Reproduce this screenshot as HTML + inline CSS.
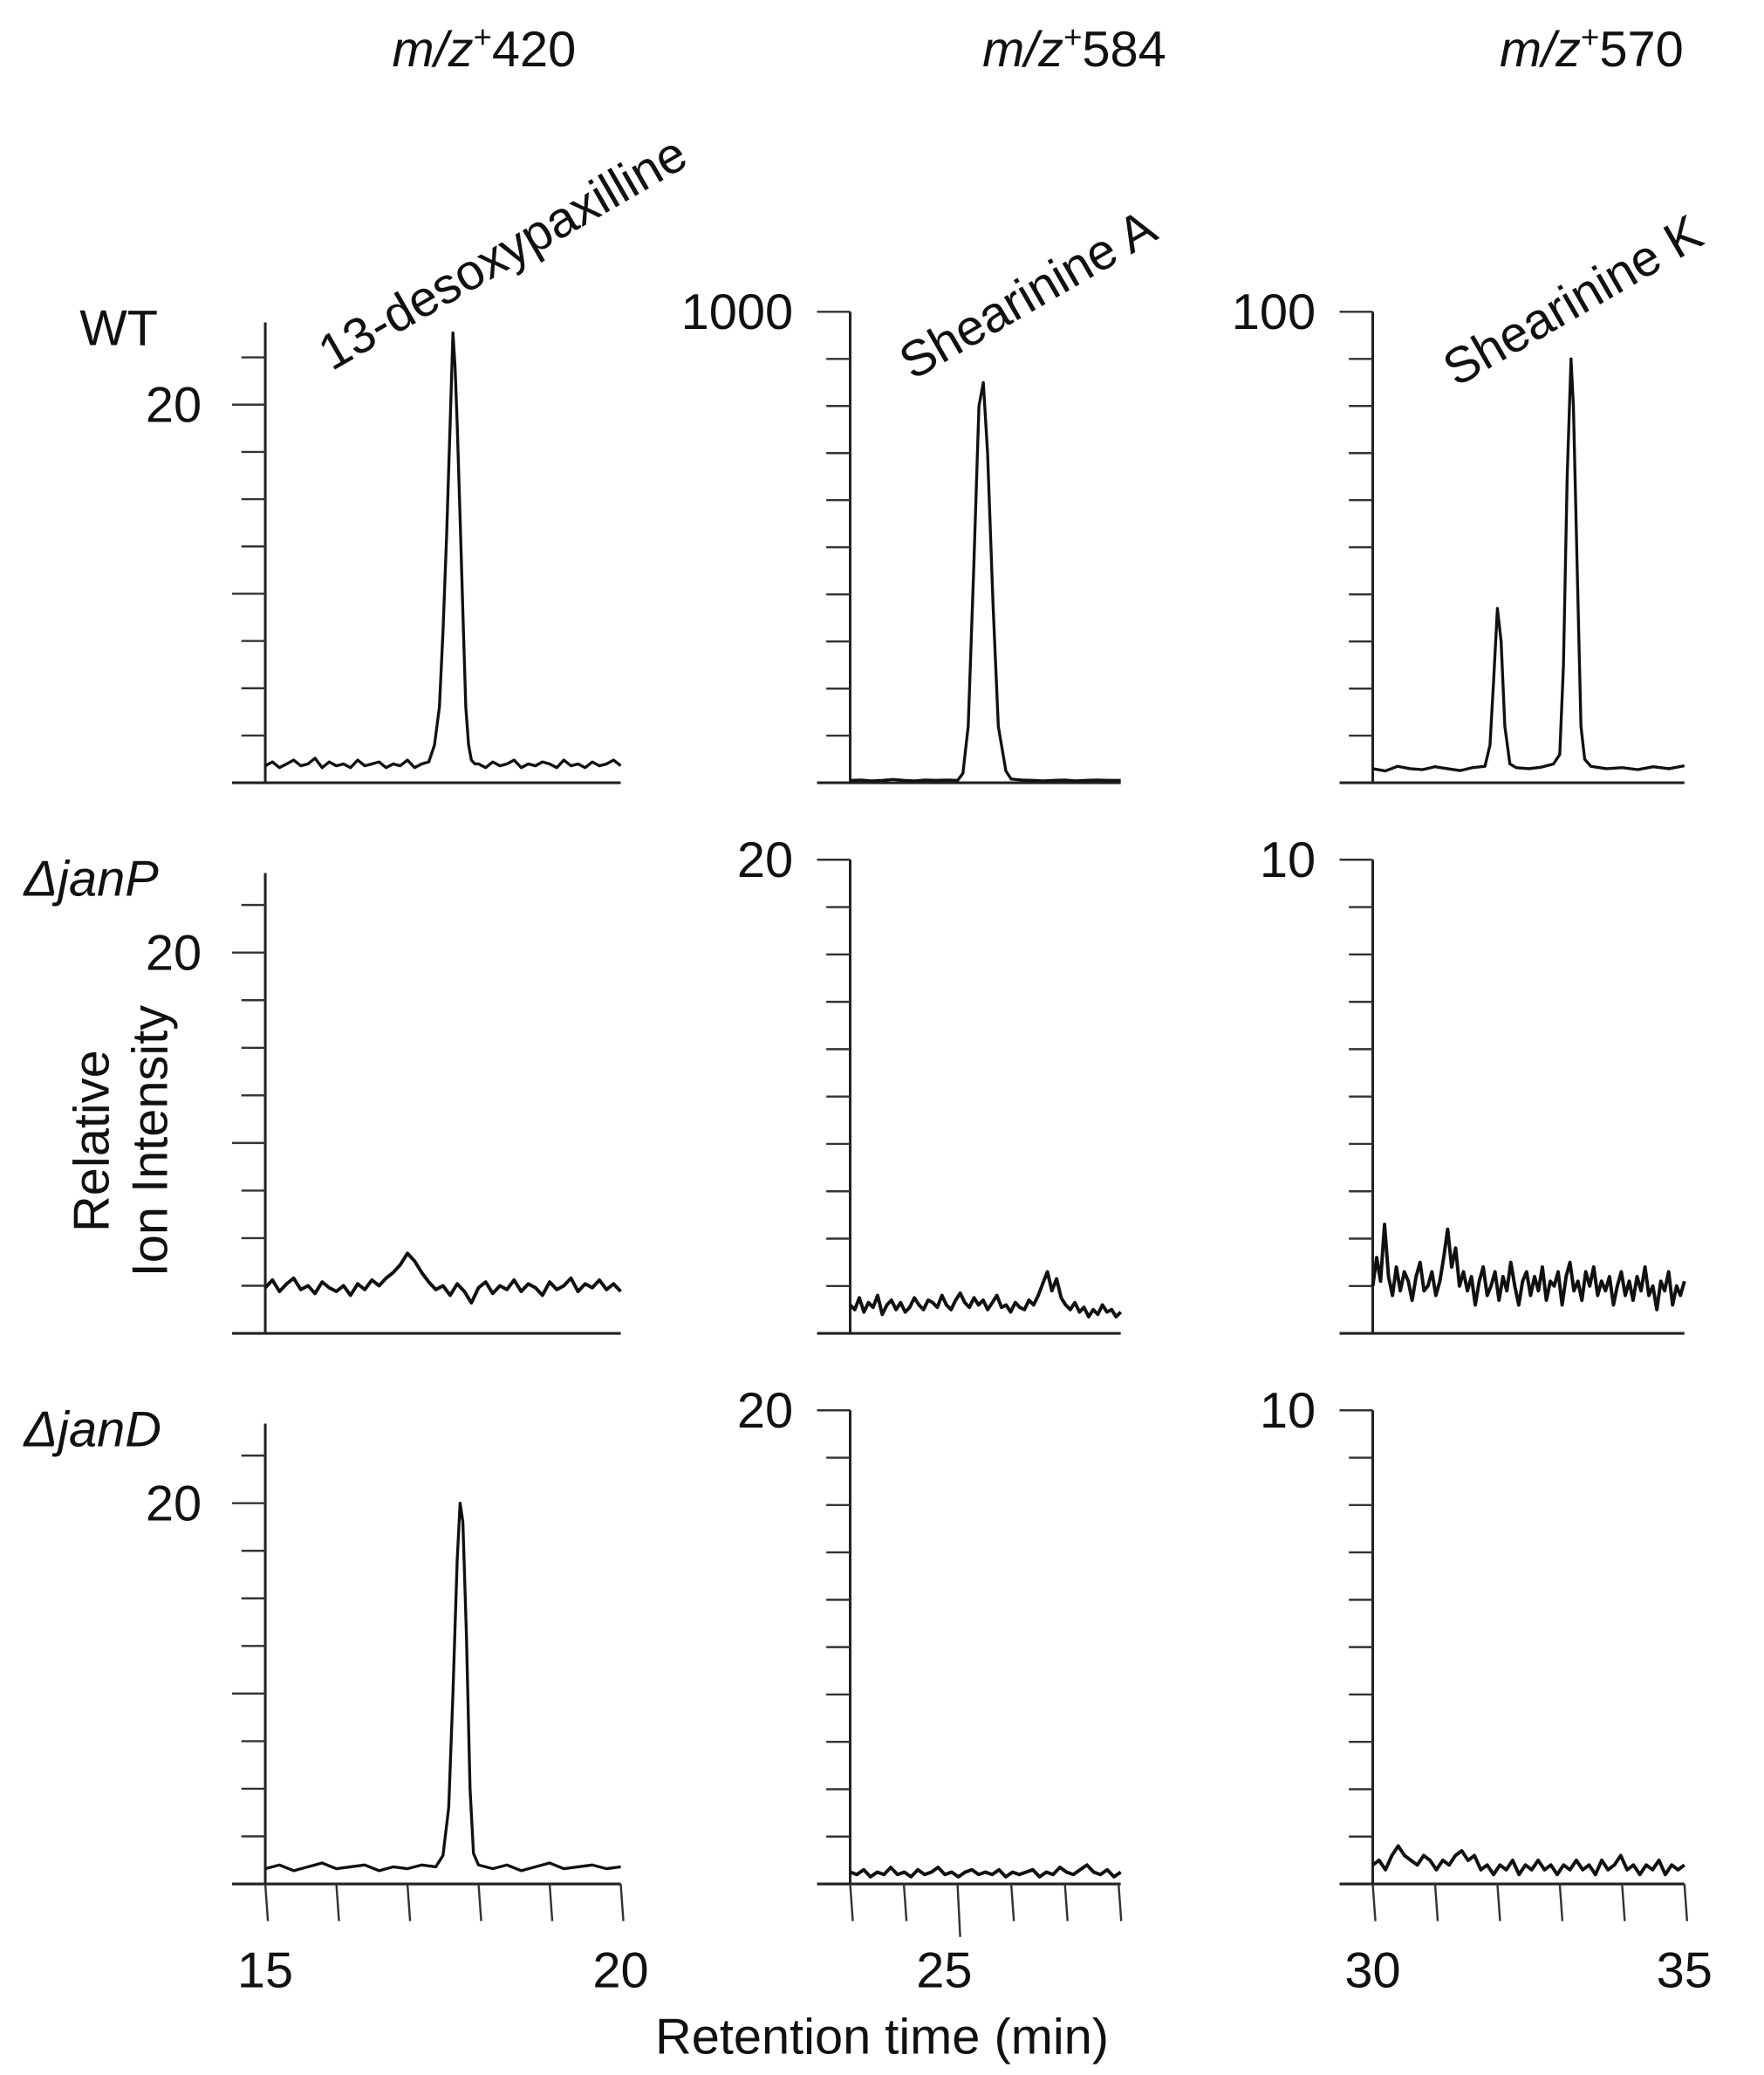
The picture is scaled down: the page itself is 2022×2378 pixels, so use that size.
<!DOCTYPE html>
<html><head><meta charset="utf-8"><style>
html,body{margin:0;padding:0;background:#fff}
svg{display:block}
text{font-family:"Liberation Sans",Arial,sans-serif;fill:#111}
</style></head><body>
<svg id="fig" width="2022" height="2378" viewBox="0 0 1330 1564" preserveAspectRatio="none" xmlns="http://www.w3.org/2000/svg">
<g id="labels" font-size="38">
<text x="365" y="50" text-anchor="middle"><tspan font-style="italic">m/z</tspan><tspan font-size="24" dy="-14">+</tspan><tspan dy="14">420</tspan></text>
<text x="810" y="50" text-anchor="middle"><tspan font-style="italic">m/z</tspan><tspan font-size="24" dy="-14">+</tspan><tspan dy="14">584</tspan></text>
<text x="1200" y="50" text-anchor="middle"><tspan font-style="italic">m/z</tspan><tspan font-size="24" dy="-14">+</tspan><tspan dy="14">570</tspan></text>
<text transform="translate(250,280) rotate(-30)">13-desoxypaxilline</text>
<text transform="translate(688,287) rotate(-30)">Shearinine A</text>
<text transform="translate(1098,292) rotate(-30)">Shearinine K</text>
<text x="60" y="260">WT</text>
<text x="18" y="675" font-style="italic">ΔjanP</text>
<text x="18" y="1090" font-style="italic">ΔjanD</text>
<text transform="translate(82,860) rotate(-90)" text-anchor="middle">Relative</text>
<text transform="translate(126,860) rotate(-90)" text-anchor="middle">Ion Intensity</text>
<text x="665" y="1548" text-anchor="middle">Retention time (min)</text>
</g>
<g id="plots"></g>
</svg>
<script>
// ---- data ----
const rowNames = ['wt','janp','jand'];
const colNames = ['mz420','mz584','mz570'];
const xDomains = [[15,20],[24,26.52],[30,35]];
const xTickLabels = [['15','20'],['25'],['30','35']];
const xTickLabelValues = [[15,20],[25],[30,35]];
const xMinorStep = [1,0.5,1];
const yLabelValues = [[20,1000,100],[20,20,10],[20,20,10]];
const yTickLabels = [['20','1000','100'],['20','20','10'],['20','20','10']];

const wt420_t = [15,15.1,15.2,15.3,15.4,15.5,15.6,15.7,15.8,15.9,16,16.1,16.2,16.3,16.4,16.5,16.6,16.7,16.8,16.9,17,17.1,17.2,17.3,17.38,17.45,17.5,17.55,17.6,17.64,17.67,17.7,17.74,17.78,17.82,17.86,17.9,17.95,18,18.1,18.2,18.3,18.4,18.5,18.6,18.7,18.8,18.9,19,19.1,19.2,19.3,19.4,19.5,19.6,19.7,19.8,19.9,20];
const wt420_v = [0.9,1.1,0.8,1.0,1.2,0.9,1.0,1.3,0.8,1.1,0.9,1.0,0.8,1.2,0.9,1.0,1.1,0.8,1.0,0.9,1.2,0.8,1.0,1.1,2.0,4,8,13,19,23.8,22,19,14,9,4,2,1.2,1.0,1.0,0.8,1.1,0.9,1.0,1.2,0.8,1.0,0.9,1.1,1.0,0.8,1.2,0.9,1.0,0.8,1.1,0.9,1.0,1.2,0.9];
const wt584_t = [24,24.1,24.2,24.3,24.4,24.5,24.6,24.7,24.8,24.9,25,25.05,25.1,25.15,25.2,25.24,25.28,25.33,25.38,25.45,25.5,25.6,25.7,25.8,25.9,26,26.1,26.2,26.3,26.4,26.5,26.52];
const wt584_v = [5,6,4,5,7,5,4,6,5,6,5,20,120,450,800,850,700,380,120,25,8,6,5,4,5,6,4,5,6,5,5,5];
const wt570_t = [30,30.2,30.4,30.6,30.8,31,31.2,31.4,31.6,31.8,31.88,31.94,32,32.06,32.12,32.2,32.3,32.5,32.7,32.9,33,33.06,33.12,33.18,33.22,33.28,33.34,33.4,33.5,33.75,34,34.25,34.5,34.75,35];
const wt570_v = [3,2.5,3.5,3,2.8,3.4,3,2.6,3.2,3.5,8,22,37,30,12,4,3.2,3,3.3,4,6,25,65,90,80,45,12,5,3.5,3,3.2,2.8,3.4,3,3.6];
const janp420_v = [2.4,2.8,2.2,2.6,2.9,2.3,2.5,2.1,2.7,2.4,2.2,2.5,2.0,2.6,2.3,2.8,2.5,2.9,3.2,3.6,4.2,3.8,3.2,2.7,2.3,2.5,2.0,2.6,2.2,1.6,2.4,2.7,2.1,2.5,2.3,2.8,2.2,2.6,2.4,2.0,2.7,2.3,2.5,2.9,2.2,2.6,2.4,2.8,2.3,2.6,2.2];
const janp584_v = [1.2,1.0,1.5,0.9,1.3,1.1,1.6,0.8,1.2,1.4,1.0,1.3,0.9,1.1,1.5,1.2,1.0,1.4,1.3,1.1,1.6,1.2,1.0,1.4,1.7,1.3,1.1,1.5,1.2,1.4,1.0,1.3,1.6,1.1,1.2,0.9,1.3,1.1,1.0,1.4,1.2,1.6,2.1,2.6,1.8,2.3,1.5,1.2,1.0,1.3,0.9,1.1,0.7,1.0,0.8,1.2,0.9,1.0,0.7,0.9];
const janp570_v = [1.0,1.6,1.1,2.3,1.2,0.8,1.4,0.9,1.3,1.1,0.7,1.2,1.5,0.9,1.0,1.3,0.8,1.1,1.6,2.2,1.4,1.8,1.0,1.3,0.9,1.2,0.6,1.1,1.4,0.8,1.0,1.3,0.7,1.2,0.9,1.5,1.0,0.6,1.1,1.3,0.8,1.2,0.9,1.4,0.7,1.1,1.0,1.3,0.6,1.2,1.5,0.9,1.1,0.7,1.3,1.0,1.4,0.8,1.1,0.9,1.2,0.6,1.0,1.3,0.8,1.1,0.7,1.2,0.9,1.4,0.8,1.0,0.5,1.1,0.9,1.3,0.6,1.0,0.8,1.1];
const jand420_t = [15,15.2,15.4,15.6,15.8,16,16.2,16.4,16.6,16.8,17,17.2,17.4,17.5,17.58,17.64,17.7,17.74,17.78,17.83,17.88,17.93,18,18.2,18.4,18.6,18.8,19,19.2,19.4,19.6,19.8,20];
const jand420_v = [0.8,1.0,0.7,0.9,1.1,0.8,0.9,1.0,0.7,0.9,0.8,1.0,0.9,1.5,4,10,17,20,19,13,5,1.6,1.0,0.8,1.0,0.7,0.9,1.1,0.8,0.9,1.0,0.8,0.9];
const jand584_v = [0.5,0.4,0.6,0.3,0.5,0.4,0.7,0.4,0.5,0.3,0.6,0.4,0.5,0.7,0.4,0.5,0.3,0.5,0.6,0.4,0.5,0.4,0.6,0.3,0.5,0.4,0.5,0.6,0.3,0.5,0.4,0.7,0.5,0.4,0.6,0.8,0.5,0.4,0.6,0.3,0.5];
const jand570_v = [0.4,0.5,0.3,0.6,0.8,0.6,0.5,0.4,0.6,0.5,0.3,0.5,0.4,0.6,0.7,0.5,0.6,0.3,0.4,0.2,0.4,0.3,0.5,0.2,0.4,0.3,0.5,0.3,0.4,0.2,0.4,0.3,0.5,0.3,0.4,0.2,0.5,0.3,0.4,0.6,0.3,0.4,0.2,0.4,0.3,0.5,0.2,0.4,0.3,0.4];

// ---- layout ----
const colPx = [[200,468],[641,845],[1035,1270]];
const rowBase = [590,1005,1420];
const rowLabelPx = [[305,235,235],[718,648,648],[1133,1063,1063]];
const NS = 'http://www.w3.org/2000/svg';
const plots = document.getElementById('plots');
function mk(tag, attrs, parent){const e=document.createElementNS(NS,tag);for(const k in attrs)e.setAttribute(k,attrs[k]);(parent||plots).appendChild(e);return e;}
function xScale(c,t){const d=xDomains[c],p=colPx[c];return p[0]+(t-d[0])/(d[1]-d[0])*(p[1]-p[0]);}
function yScale(r,c,v){const b=rowBase[r],l=rowLabelPx[r][c];return b-(v/yLabelValues[r][c])*(b-l);}
function uniformTimes(c,n){const d=xDomains[c];const a=[];for(let i=0;i<n;i++)a.push(d[0]+i*(d[1]-d[0])/(n-1));return a;}

const traces = [
 [[wt420_t,wt420_v],[wt584_t,wt584_v],[wt570_t,wt570_v]],
 [[null,janp420_v],[null,janp584_v],[null,janp570_v]],
 [[jand420_t,jand420_v],[null,jand584_v],[null,jand570_v]]
];

for(let r=0;r<3;r++){for(let c=0;c<3;c++){
 const g=mk('g',{});
 
 
 const x0=colPx[c][0],x1=colPx[c][1],base=rowBase[r];
 const top = c===0 ? base-347 : rowLabelPx[r][c];
 const yAx=mk('line',{x1:x0,y1:top,x2:x0,y2:base,stroke:'#222','stroke-width':2},g);
 
 
 const xAx=mk('line',{x1:x0-25,y1:base,x2:x1,y2:base,stroke:'#222','stroke-width':2},g);
 
 
 const L=yLabelValues[r][c];
 const step = c===0 ? L/8 : L/10;
 const maxV = c===0 ? L*1.2 : L;
 for(let k=1;k*step<=maxV+1e-9;k++){
  const v=k*step,y=yScale(r,c,v);
  const major = c===0 ? (k%4===0) : (k===10);
  const tk=mk('line',{x1:x0-(major?25:18),y1:y,x2:x0,y2:y,stroke:'#333','stroke-width':1.6},g);
  
  
 }
 const lbl=mk('text',{x:(c===0?152:x0-43),y:rowLabelPx[r][c]+13,'text-anchor':'end','font-size':38},g);
 lbl.textContent=yTickLabels[r][c];
 
 
 if(r===2){
  const d=xDomains[c];
  for(let t=Math.ceil(d[0]/xMinorStep[c]-1e-9)*xMinorStep[c];t<=d[1]+1e-9;t+=xMinorStep[c]){
   const x=xScale(c,t);
   const isLab = xTickLabelValues[c].some(v=>Math.abs(v-t)<1e-6);
   const tk=mk('line',{x1:x,y1:base,x2:x+2,y2:base+(isLab&&c===1?40:28),stroke:'#333','stroke-width':1.6},g);
   
   
  }
  xTickLabels[c].forEach((s,i)=>{
   const tl=mk('text',{x:xScale(c,xTickLabelValues[c][i])-(c===1?10:0),y:1498,'text-anchor':'middle','font-size':38},g);
   tl.textContent=s;
   
   
  });
 }
 const tr=traces[r][c];
 const vals=tr[1];
 const ts=tr[0]||uniformTimes(c,vals.length);
 let dStr='';
 for(let i=0;i<vals.length;i++){dStr+=(i?'L':'M')+xScale(c,ts[i]).toFixed(1)+' '+yScale(r,c,vals[i]).toFixed(1);}
 const p=mk('path',{d:dStr,fill:'none',stroke:'#111','stroke-width':tr[0]?2.2:2.6,'stroke-linejoin':'round'},g);
 
 
}}
</script>
</body></html>
